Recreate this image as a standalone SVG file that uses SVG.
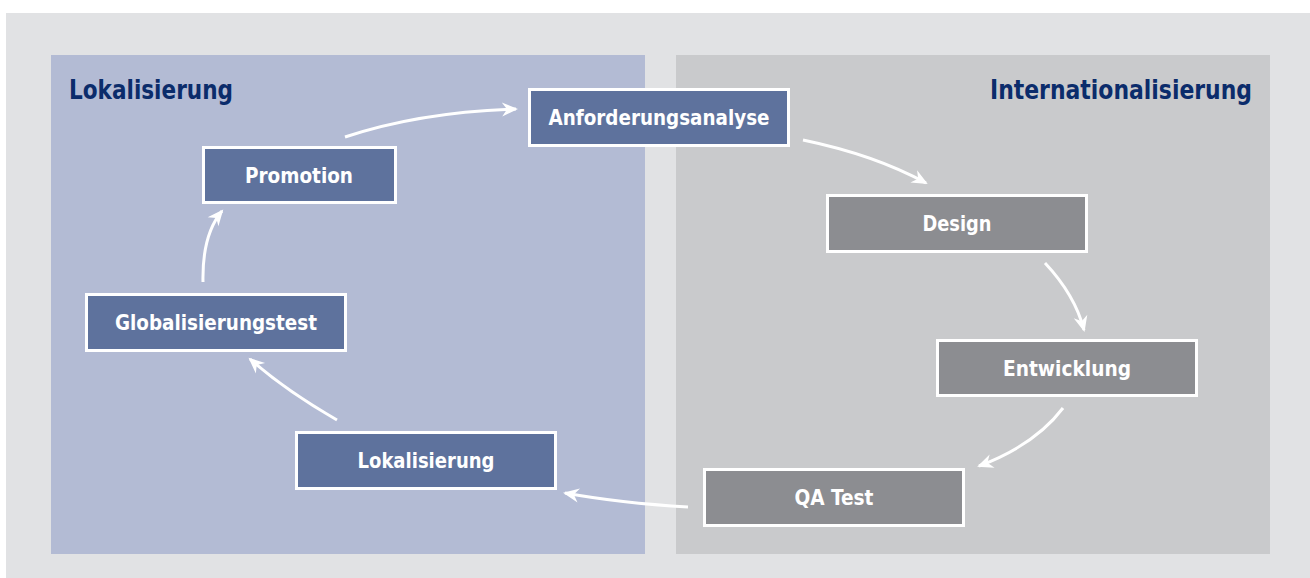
<svg xmlns="http://www.w3.org/2000/svg" width="1310" height="578" viewBox="0 0 1310 578">
  <style>
    .panel-l { fill: #b3bbd4; }
    .panel-r { fill: #c9cacc; }
    .title { font-family: "Liberation Sans Narrow", "DejaVu Sans Condensed", "DejaVu Sans", sans-serif; font-stretch: condensed; font-weight: bold; font-size: 27px; fill: #0b2c6b; }
    .box-blue { fill: #5e729d; stroke: #ffffff; stroke-width: 3; }
    .box-gray { fill: #8c8d91; stroke: #ffffff; stroke-width: 3; }
    .label { font-family: "Liberation Sans Narrow", "DejaVu Sans Condensed", "DejaVu Sans", sans-serif; font-stretch: condensed; font-weight: bold; font-size: 20.5px; fill: #ffffff; text-anchor: middle; }
    .flow { fill: none; stroke: #ffffff; stroke-width: 3; }
  </style>
  <defs>
    <marker id="head" markerUnits="userSpaceOnUse" viewBox="-17 -8 18 16" markerWidth="18" markerHeight="16" refX="-2" refY="0" orient="auto">
      <path d="M0,0 L-16,-7 L-11,0 L-16,7 Z" fill="#ffffff"/>
    </marker>
  </defs>

  <!-- background -->
  <rect x="0" y="0" width="1310" height="578" fill="#ffffff"/>
  <rect x="6" y="13" width="1304" height="565" fill="#e1e2e4"/>

  <!-- phase panels -->
  <g id="panel-lokalisierung">
    <rect class="panel-l" x="51" y="55" width="594" height="499"/>
    <text class="title" x="69" y="99" textLength="164" lengthAdjust="spacingAndGlyphs">Lokalisierung</text>
  </g>
  <g id="panel-internationalisierung">
    <rect class="panel-r" x="676" y="55" width="594" height="499"/>
    <text class="title" x="1252" y="99" text-anchor="end" textLength="262" lengthAdjust="spacingAndGlyphs">Internationalisierung</text>
  </g>

  <!-- connectors -->
  <g id="connectors">
    <path class="flow" marker-end="url(#head)" d="M345,137 Q420,112 516,109"/>
    <path class="flow" marker-end="url(#head)" d="M803,140 Q875,155 926,183"/>
    <path class="flow" marker-end="url(#head)" d="M1045,263 Q1075,295 1084,330"/>
    <path class="flow" marker-end="url(#head)" d="M1063,408 Q1035,445 979,466"/>
    <path class="flow" marker-end="url(#head)" d="M688,507 Q620,503 565,493"/>
    <path class="flow" marker-end="url(#head)" d="M337,420 Q285,390 250,359"/>
    <path class="flow" marker-end="url(#head)" d="M203,282 Q202,235 222,211"/>
  </g>

  <!-- nodes -->
  <g id="node-anforderungsanalyse">
    <rect class="box-blue" x="529.5" y="89.5" width="259" height="56"/>
    <text class="label" x="659" y="125" textLength="221" lengthAdjust="spacingAndGlyphs">Anforderungsanalyse</text>
  </g>
  <g id="node-design">
    <rect class="box-gray" x="827.5" y="195.5" width="259" height="56"/>
    <text class="label" x="957" y="231" textLength="69" lengthAdjust="spacingAndGlyphs">Design</text>
  </g>
  <g id="node-entwicklung">
    <rect class="box-gray" x="937.5" y="340.5" width="259" height="55"/>
    <text class="label" x="1067" y="376" textLength="128" lengthAdjust="spacingAndGlyphs">Entwicklung</text>
  </g>
  <g id="node-qa-test">
    <rect class="box-gray" x="704.5" y="469.5" width="259" height="56"/>
    <text class="label" x="834" y="505" textLength="79" lengthAdjust="spacingAndGlyphs">QA Test</text>
  </g>
  <g id="node-lokalisierung">
    <rect class="box-blue" x="296.5" y="432.5" width="259" height="56"/>
    <text class="label" x="426" y="468" textLength="137" lengthAdjust="spacingAndGlyphs">Lokalisierung</text>
  </g>
  <g id="node-globalisierungstest">
    <rect class="box-blue" x="86.5" y="294.5" width="259" height="56"/>
    <text class="label" x="216" y="330" textLength="202" lengthAdjust="spacingAndGlyphs">Globalisierungstest</text>
  </g>
  <g id="node-promotion">
    <rect class="box-blue" x="203.5" y="147.5" width="192" height="55"/>
    <text class="label" x="299" y="183" textLength="108" lengthAdjust="spacingAndGlyphs">Promotion</text>
  </g>
</svg>
